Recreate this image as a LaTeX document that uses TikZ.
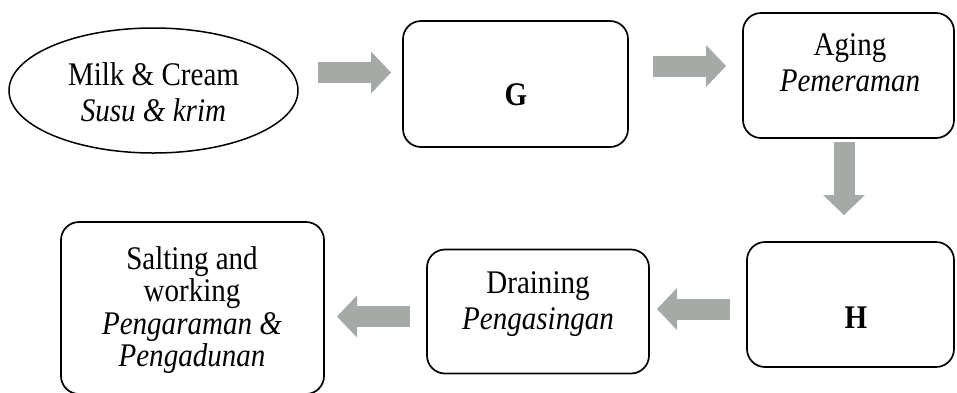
\documentclass[tikz,border=0pt]{standalone}
\usepackage{fontspec}
\setmainfont{Liberation Serif}[FakeStretch=0.88]
\usetikzlibrary{shapes.geometric,arrows.meta}
\definecolor{arrowgray}{RGB}{166,170,166}
\begin{document}
\begin{tikzpicture}[x=1pt,y=-1pt,
  box/.style={draw=black, line width=1.7pt, rounded corners=18pt, inner sep=0pt},
  oval/.style={draw=black, line width=1.5pt, ellipse, inner sep=0pt},
  lbl/.style={align=center, inner sep=0pt, font=\fontsize{33}{36}\selectfont},
  flow/.style={draw=arrowgray, line width=21pt,
    -{Triangle[width=42pt,length=20pt,line width=0pt]}}]
\useasboundingbox (0,0) rectangle (957,392);

% shapes
\node[oval, minimum width=289pt, minimum height=125pt] (milk) at (153.5,90.5) {};
\node[box, minimum width=225pt, minimum height=126pt] (g) at (515.5,84) {};
\node[box, minimum width=211pt, minimum height=125pt] (aging) at (848.5,75.5) {};
\node[box, minimum width=207pt, minimum height=125pt] (h) at (850.5,304.5) {};
\node[box, minimum width=222pt, minimum height=124pt] (drain) at (538,311.5) {};
\node[box, minimum width=263pt, minimum height=172pt] (salt) at (192.5,308) {};

% texts
\node[lbl] (milkt) at (153.5,92) {Milk \& Cream\\\textit{Susu \& krim}};
\node[lbl, font=\fontsize{33}{36}\selectfont\bfseries] (gt) at (516,95) {G};
\node[lbl] (agingt) at (850,63) {Aging\\\textit{Pemeraman}};
\node[lbl, font=\fontsize{33}{36}\selectfont\bfseries] (ht) at (856,318) {H};
\node[lbl] (draint) at (538,304) {Draining\\\textit{Pengasingan}};
\node[lbl, font=\fontsize{33}{32.5}\selectfont] (saltt) at (192,310) {Salting and\\working\\\textit{Pengaraman \&}\\\textit{Pengadunan}};

% arrow ends
\coordinate (a1s) at (318,72.5);  \coordinate (a1e) at (391,72.5);
\coordinate (a2s) at (653,66);    \coordinate (a2e) at (726,66);
\coordinate (a3s) at (844,142);   \coordinate (a3e) at (844,215);
\coordinate (a4s) at (730,309);   \coordinate (a4e) at (657,309);
\coordinate (a5s) at (410,316.5); \coordinate (a5e) at (337,316.5);

\draw[flow] (a1s) -- (a1e);
\draw[flow] (a2s) -- (a2e);
\draw[flow] (a3s) -- (a3e);
\draw[flow] (a4s) -- (a4e);
\draw[flow] (a5s) -- (a5e);
\end{tikzpicture}
\end{document}
